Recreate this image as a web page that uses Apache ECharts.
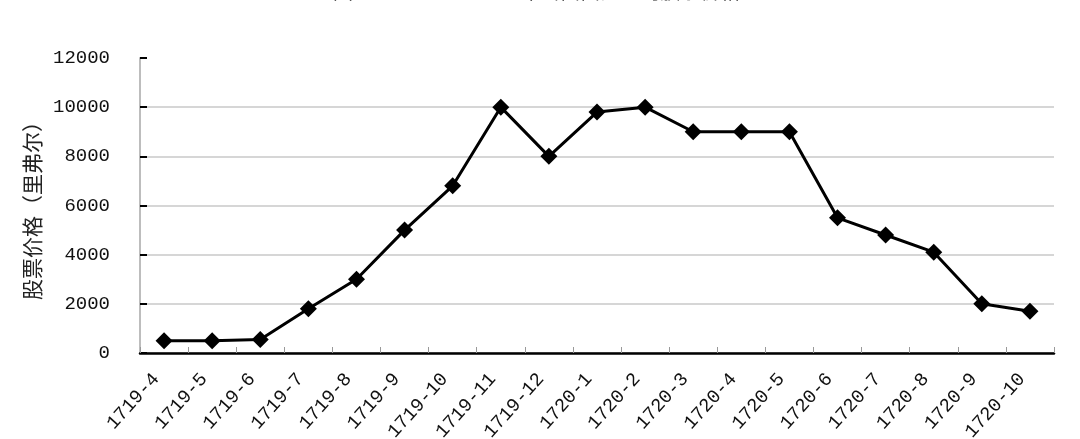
<!DOCTYPE html>
<html>
<head>
<meta charset="utf-8">
<script src="https://cdn.jsdelivr.net/npm/echarts@6/dist/echarts.min.js"></script>
<style>html,body{margin:0;padding:0;background:#fff}#c{width:1080px;height:439px}</style>
</head>
<body>
<div id="c"></div>
<script>
const titleText = '图 2-1      1719—1720年密西西比公司股票价格';
const yAxisName = '股票价格（里弗尔）';
const months = ['1719-4','1719-5','1719-6','1719-7','1719-8','1719-9','1719-10','1719-11','1719-12',
  '1720-1','1720-2','1720-3','1720-4','1720-5','1720-6','1720-7','1720-8','1720-9','1720-10'];
const prices = [500,500,550,1800,3000,5000,6800,10000,8000,9800,10000,9000,9000,9000,5500,4800,4100,2000,1700];
const yMin = 0, yMax = 12000, yStep = 2000;

const chart = echarts.init(document.getElementById('c'), null, {renderer:'canvas'});
chart.setOption({
  animation:false,
  backgroundColor:'#fff',
  graphic:[{
    type:'text', left:333, top:-19,
    style:{text:titleText, font:'20px "Noto Sans CJK SC"', fill:'#222'}
  }],
  grid:{left:140, right:26, top:58, bottom:86, containLabel:false, outerBoundsMode:'none'},
  xAxis:{
    type:'category', data:months, boundaryGap:true,
    axisLine:{lineStyle:{color:'#000', width:2.5}},
    axisTick:{show:true, inside:true, length:6, lineStyle:{color:'#999', width:1}},
    axisLabel:{rotate:48, margin:14, interval:0, color:'#111',
      fontFamily:'Liberation Mono', fontSize:19, padding:[0,12,0,0]},
    splitLine:{show:false}
  },
  yAxis:{
    type:'value', min:yMin, max:yMax, interval:yStep,
    name:yAxisName, nameLocation:'middle', nameGap:68, nameRotate:90,
    nameTextStyle:{fontFamily:'Noto Sans CJK SC', fontSize:21, color:'#222'},
    axisLine:{show:true, lineStyle:{color:'#bdbdbd', width:2}},
    axisTick:{show:true, inside:true, length:7, lineStyle:{color:'#000', width:2}},
    axisLabel:{margin:30, color:'#111', fontFamily:'Liberation Mono', fontSize:19,
      formatter:function(v){return String(v);}},
    splitLine:{show:true, showMaxLine:false, lineStyle:{color:'#c8c8c8', width:1.5}}
  },
  series:[{
    type:'line', data:prices,
    symbol:'diamond', symbolSize:17,
    lineStyle:{color:'#000', width:3},
    itemStyle:{color:'#000'}
  }]
});
</script>
</body>
</html>
